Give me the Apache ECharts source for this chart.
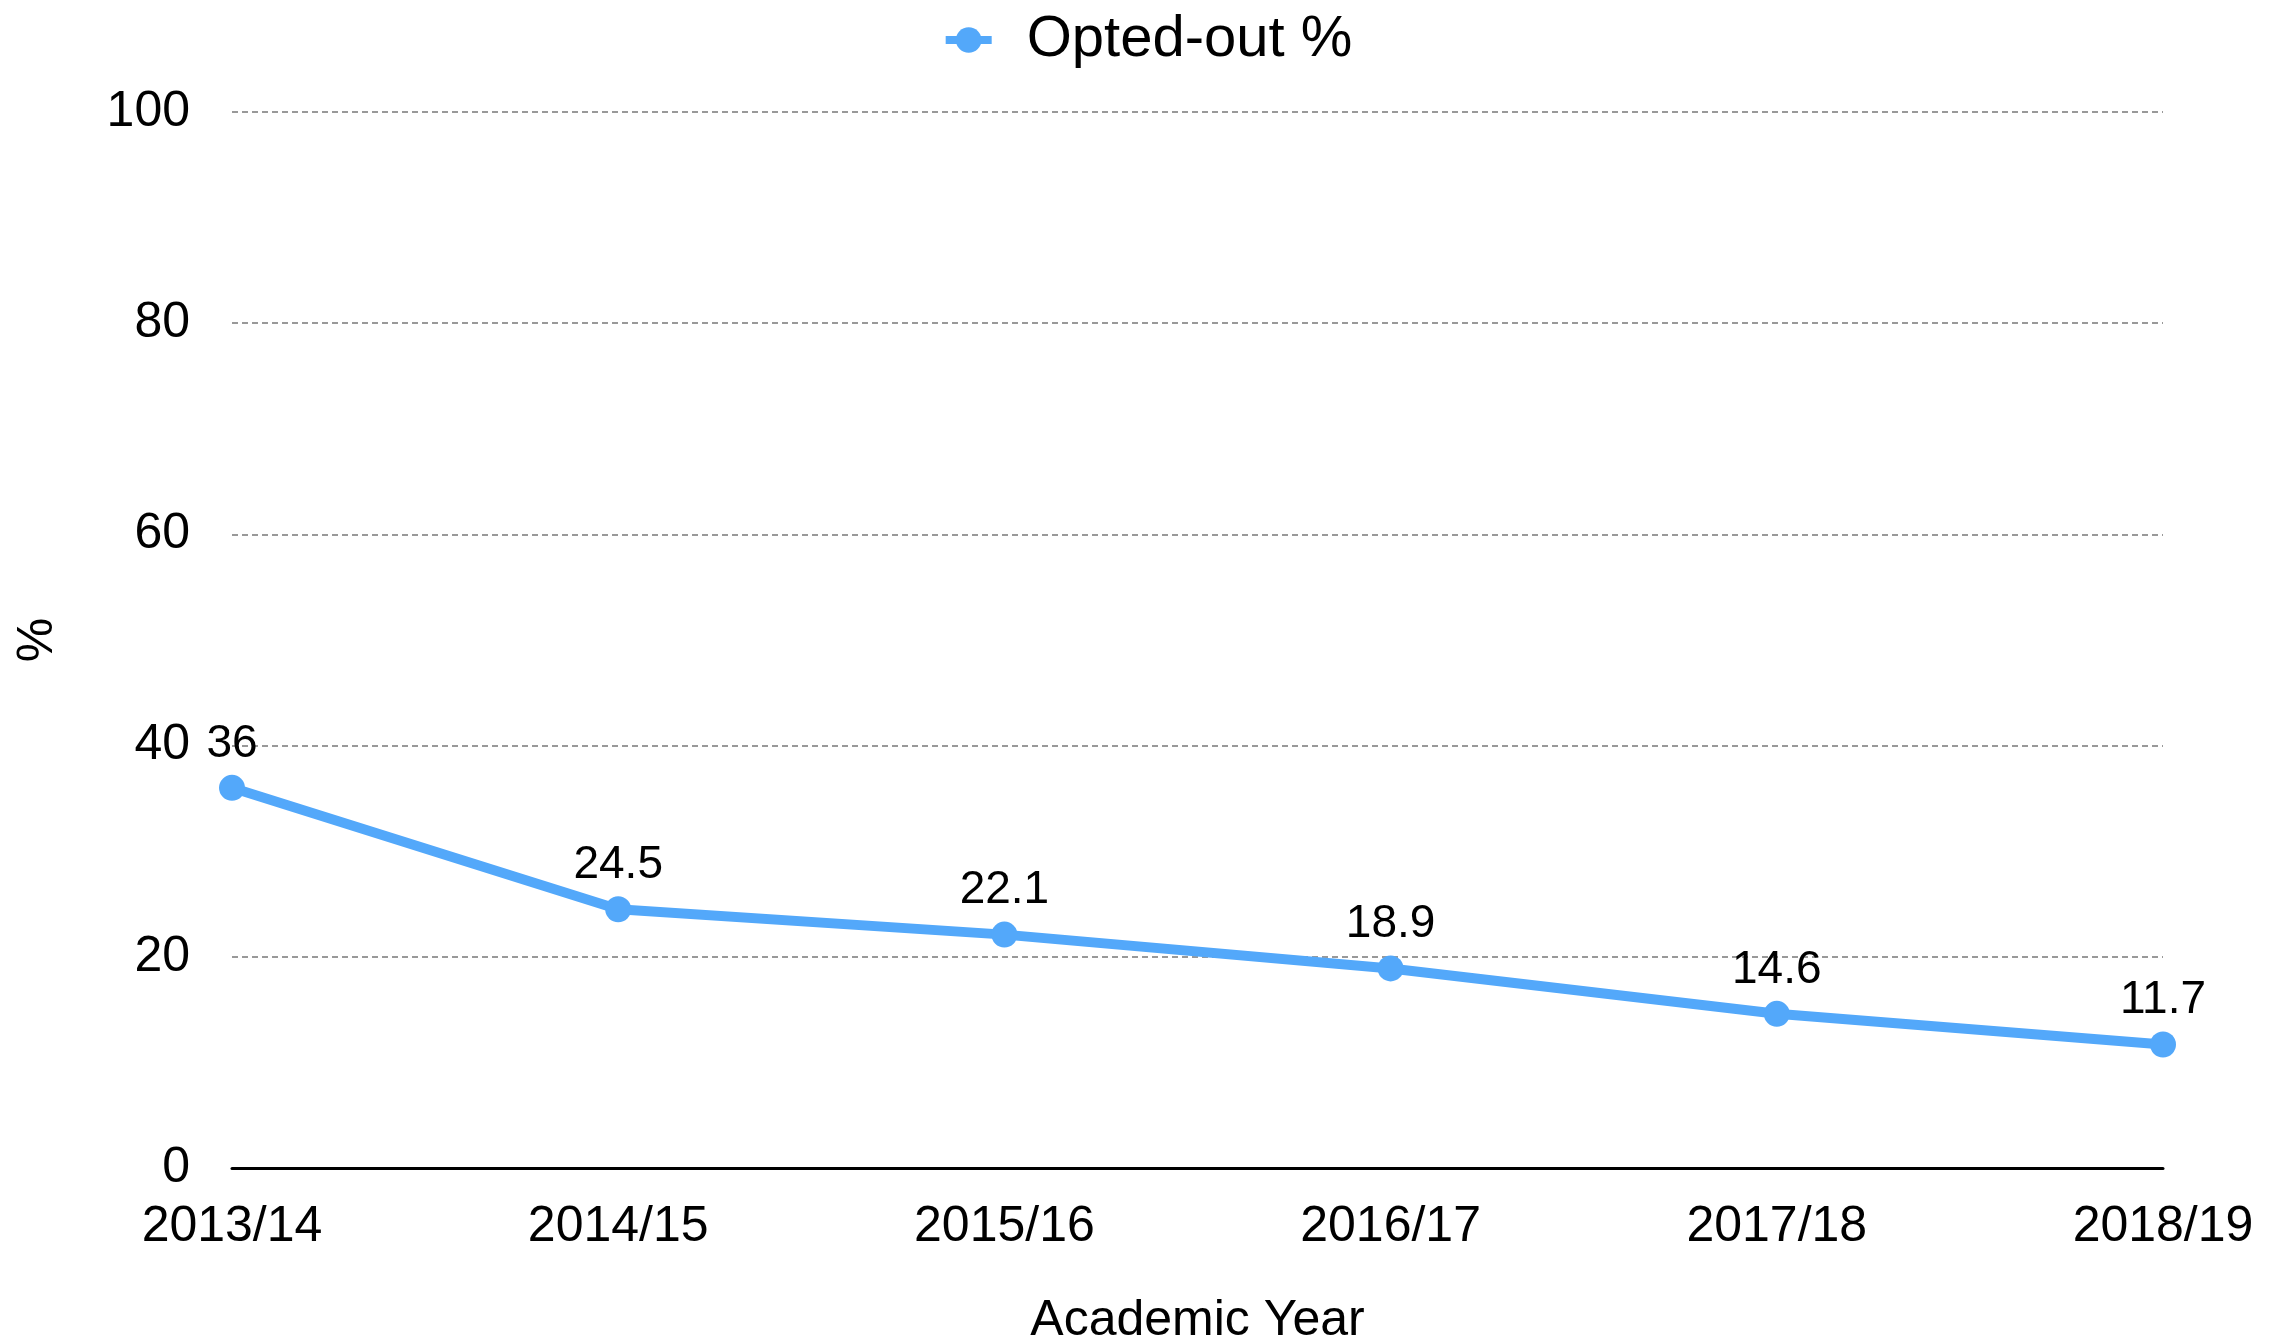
<!DOCTYPE html>
<html>
<head>
<meta charset="utf-8">
<title>Opted-out %</title>
<script src="https://cdn.jsdelivr.net/npm/echarts@6/dist/echarts.min.js"></script>
<style>
  html, body { margin: 0; padding: 0; background: #fff; }
  #chart { width: 2294px; height: 1344px; }
</style>
</head>
<body>
<div id="chart"></div>
<script>
// academic years on the x axis
const years = ["2013/14", "2014/15", "2015/16", "2016/17", "2017/18", "2018/19"];
// opted-out percentage per year
const optedOut = [36, 24.5, 22.1, 18.9, 14.6, 11.7];
const yTicks = [0, 20, 40, 60, 80, 100];

const FONT = "Liberation Sans";
const BLUE = "#53a8fa";

let chart = echarts.init(document.getElementById("chart"));
chart.setOption({
  backgroundColor: "#fff",
  textStyle: { fontFamily: FONT, color: "#000" },
  legend: {
    top: 6,
    left: "center",
    itemWidth: 46,
    itemHeight: 32,
    lineStyle: { width: 8 },
    textStyle: { fontSize: 58, color: "#000", fontFamily: FONT, padding: [0, 0, 0, 30] },
    data: ["Opted-out %"]
  },
  grid: { left: 232, right: 131, top: 112, bottom: 176, outerBoundsMode: "none" },
  xAxis: {
    type: "category",
    data: years,
    boundaryGap: false,
    name: "Academic Year",
    nameLocation: "middle",
    nameGap: 128,
    nameTextStyle: { fontSize: 50, color: "#000", fontFamily: FONT },
    axisLine: { show: true, lineStyle: { color: "#000", width: 3 } },
    axisTick: { show: false },
    axisLabel: { fontSize: 50, color: "#000", margin: 34, fontFamily: FONT },
    splitLine: { show: false }
  },
  yAxis: {
    type: "value",
    min: yTicks[0],
    max: yTicks[yTicks.length - 1],
    interval: 20,
    name: "%",
    nameLocation: "middle",
    nameGap: 169,
    nameRotate: 90,
    nameTextStyle: { fontSize: 50, color: "#000", fontFamily: FONT },
    axisLine: { show: false },
    axisTick: { show: false },
    axisLabel: { fontSize: 50, color: "#000", margin: 42, fontFamily: FONT },
    splitLine: {
      show: true,
      lineStyle: { color: "#999", width: 2, type: [6, 4] }
    }
  },
  series: [
    {
      name: "Opted-out %",
      type: "line",
      data: optedOut,
      symbol: "circle",
      symbolSize: 26,
      lineStyle: { color: BLUE, width: 10 },
      itemStyle: { color: BLUE },
      label: {
        show: true,
        position: "top",
        distance: 8,
        fontSize: 46,
        color: "#000",
        fontFamily: FONT
      },
      animation: false
    }
  ]
});
</script>
</body>
</html>
